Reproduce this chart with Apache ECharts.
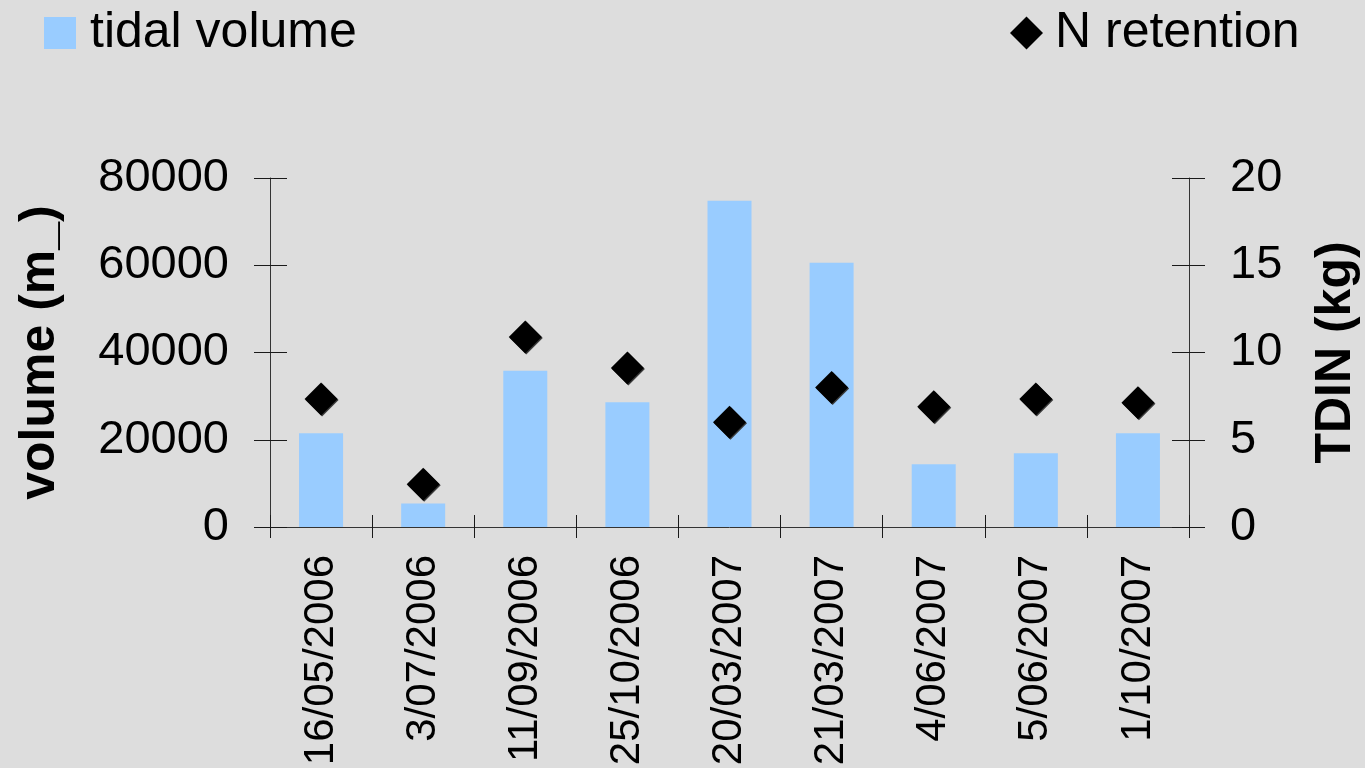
<!DOCTYPE html>
<html>
<head>
<meta charset="utf-8">
<script src="https://cdn.jsdelivr.net/npm/echarts@6/dist/echarts.min.js"></script>
<style>
  html, body { margin: 0; padding: 0; background: #dddddd; overflow: hidden; }
  #chart { width: 1365px; height: 768px; }
</style>
</head>
<body>
<div id="chart"></div>
<script>
// Sampling dates
const categories = ['16/05/2006', '3/07/2006', '11/09/2006', '25/10/2006', '20/03/2007',
                    '21/03/2007', '4/06/2007', '5/06/2007', '1/10/2007'];
// Tidal volume per event (m³)
const tidalVolume = [21500, 5400, 35800, 28600, 74800, 60600, 14400, 16900, 21500];
// Nitrogen retention, TDIN (kg)
const nRetention = [7.33, 2.45, 10.89, 9.11, 6.01, 8.00, 6.89, 7.33, 7.12];

const FONT = '"Liberation Sans", Arial, sans-serif';
const INK = '#1a1a1a';
const AXIS = '#333333';

const chart = echarts.init(document.getElementById('chart'), null, { renderer: 'canvas' });

const valueAxisBase = {
  type: 'value',
  splitLine: { show: false },
  axisLine: { show: true, lineStyle: { color: AXIS, width: 1 } },
};

const plainNumber = v => String(v);

chart.setOption({
  backgroundColor: '#dddddd',
  animation: false,
  textStyle: { fontFamily: FONT },
  legend: [
    {
      data: [{ name: 'tidal volume', icon: 'rect' }],
      left: 44, top: 8, padding: 0,
      itemWidth: 32, itemHeight: 32,
      textStyle: { fontFamily: FONT, fontSize: 50, color: '#000', padding: [0, 0, 8, 9] }
    },
    {
      data: [{ name: 'N retention', icon: 'diamond' }],
      left: 1010, top: 8, padding: 0,
      itemWidth: 33, itemHeight: 33,
      textStyle: { fontFamily: FONT, fontSize: 50, color: '#000', padding: [0, 0, 8, 7] }
    }
  ],
  grid: { left: 270, right: 176, top: 178, bottom: 241, containLabel: false, outerBoundsMode: 'none' },
  xAxis: [
    {
      type: 'category',
      data: categories,
      position: 'bottom',
      boundaryGap: true,
      axisLine: { show: true, lineStyle: { color: AXIS, width: 1 } },
      axisTick: { show: true, inside: false, length: 11, lineStyle: { color: INK } },
      axisLabel: {
        rotate: 90, margin: 28, interval: 0,
        fontFamily: FONT, fontSize: 42, color: '#000'
      }
    },
    {
      // inner half of the crossing category ticks
      type: 'category',
      data: categories,
      position: 'bottom',
      boundaryGap: true,
      axisLine: { show: false },
      axisTick: { show: true, inside: true, length: 12, lineStyle: { color: INK } },
      axisLabel: { show: false }
    }
  ],
  yAxis: [
    Object.assign({}, valueAxisBase, {
      position: 'left',
      min: 0, max: 80000, interval: 20000,
      axisTick: { show: true, inside: false, length: 16, lineStyle: { color: INK } },
      axisLabel: { margin: 41, fontFamily: FONT, fontSize: 47, color: '#000', formatter: plainNumber },
      name: 'volume (m_)',
      nameLocation: 'middle',
      nameRotate: 90,
      nameGap: 205,
      nameTextStyle: { fontFamily: FONT, fontSize: 50, fontWeight: 'bold', color: '#000' }
    }),
    Object.assign({}, valueAxisBase, {
      position: 'right',
      min: 0, max: 20, interval: 5,
      axisTick: { show: true, inside: false, length: 16, lineStyle: { color: INK } },
      axisLabel: { margin: 41, fontFamily: FONT, fontSize: 47, color: '#000', formatter: plainNumber },
      name: 'TDIN (kg)',
      nameLocation: 'middle',
      nameRotate: 90,
      nameGap: 122,
      nameTextStyle: { fontFamily: FONT, fontSize: 50, fontWeight: 'bold', color: '#000' }
    }),
    Object.assign({}, valueAxisBase, {
      // inner half of the crossing ticks, left
      position: 'left',
      min: 0, max: 80000, interval: 20000,
      axisLine: { show: false },
      axisTick: { show: true, inside: true, length: 17, lineStyle: { color: INK } },
      axisLabel: { show: false }
    }),
    Object.assign({}, valueAxisBase, {
      // inner half of the crossing ticks, right
      position: 'right',
      min: 0, max: 20, interval: 5,
      axisLine: { show: false },
      axisTick: { show: true, inside: true, length: 17, lineStyle: { color: INK } },
      axisLabel: { show: false }
    })
  ],
  series: [
    {
      name: 'tidal volume',
      type: 'bar',
      xAxisIndex: 0,
      yAxisIndex: 0,
      data: tidalVolume,
      barWidth: 44,
      itemStyle: { color: '#99ccff' }
    },
    {
      name: 'N retention',
      type: 'scatter',
      xAxisIndex: 0,
      yAxisIndex: 1,
      data: nRetention,
      symbol: 'diamond',
      symbolSize: 33,
      z: 5,
      itemStyle: {
        color: '#000',
        opacity: 1,
        shadowColor: '#3a3a3a',
        shadowOffsetX: 1,
        shadowOffsetY: 1,
        shadowBlur: 0
      }
    }
  ]
});
</script>
</body>
</html>
